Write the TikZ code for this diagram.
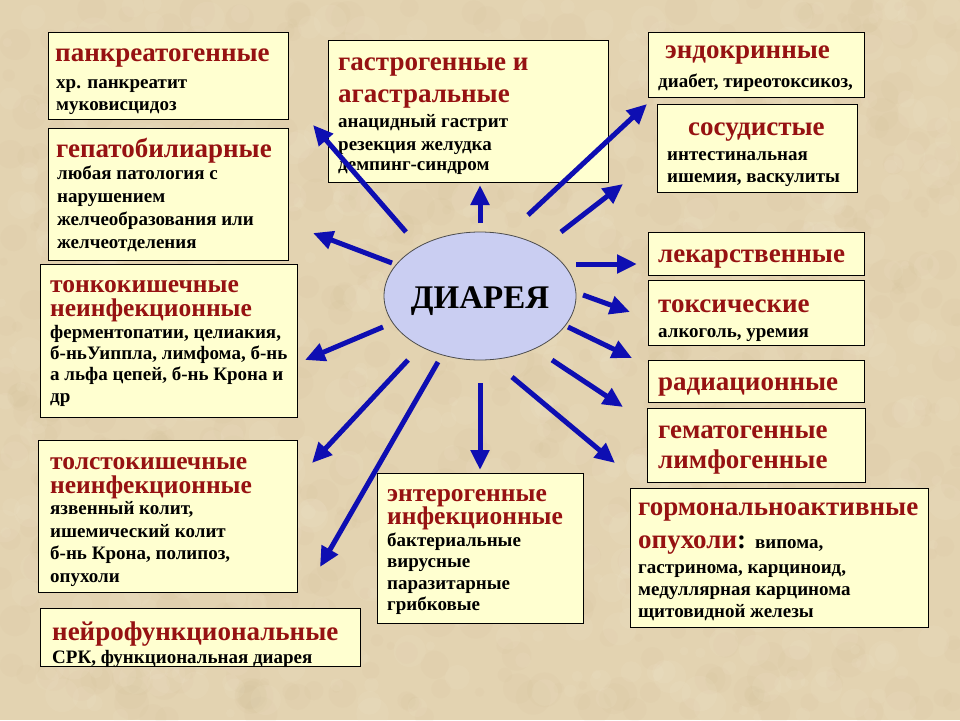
\documentclass[tikz,border=0pt]{standalone}
\usepackage{fontspec}
\setmainfont{Liberation Serif}
\usetikzlibrary{arrows.meta,shapes.geometric}
\definecolor{bg}{RGB}{227,211,177}
\definecolor{bgdark}{RGB}{200,180,140}
\definecolor{bglight}{RGB}{245,236,214}
\definecolor{boxfill}{RGB}{255,255,208}
\definecolor{dred}{RGB}{150,18,18}
\definecolor{arrblue}{RGB}{14,14,178}
\definecolor{ellfill}{RGB}{202,206,242}
\begin{document}
\begin{tikzpicture}[x=1pt,y=-1pt,
  box/.style={draw=black, line width=1pt, fill=boxfill, anchor=north west, inner sep=0pt},
  tt/.style={anchor=base west, inner sep=0pt, text=dred, font=\fontsize{27}{30}\selectfont\bfseries},
  tts/.style={tt, font=\fontsize{25.5}{28}\selectfont\bfseries},
  bd/.style={anchor=base west, inner sep=0pt, text=black, font=\fontsize{19}{22}\selectfont\bfseries},
  arr/.style={draw=arrblue, line width=5pt, -{Triangle[length=20pt,width=18pt]}}]
\fill[bg] (0,0) rectangle (960,720);
\useasboundingbox (0,0) rectangle (960,720);
% parchment texture
\pgfmathsetseed{12}
\foreach \k in {1,...,700} {
  \pgfmathsetmacro\xx{rnd*960}\pgfmathsetmacro\yy{rnd*720}\pgfmathsetmacro\rr{4+rnd*14}
  \fill[bgdark, opacity=0.07] (\xx,\yy) circle[radius=\rr];
}
\foreach \k in {1,...,600} {
  \pgfmathsetmacro\xx{rnd*960}\pgfmathsetmacro\yy{rnd*720}\pgfmathsetmacro\rr{4+rnd*14}
  \fill[bglight, opacity=0.10] (\xx,\yy) circle[radius=\rr];
}
% boxes
\node[box, minimum width=240, minimum height=87] (b1) at (48,32) {};
\node[box, minimum width=240, minimum height=132] (b2) at (48,128) {};
\node[box, minimum width=280, minimum height=142] (b3) at (328,40) {};
\node[box, minimum width=216, minimum height=65] (b4) at (648,32) {};
\node[box, minimum width=200, minimum height=88] (b5) at (657,104) {};
\node[box, minimum width=257, minimum height=153] (b6) at (40,264) {};
\node[box, minimum width=216, minimum height=43] (b7) at (648,232) {};
\node[box, minimum width=216, minimum height=65] (b8) at (648,280) {};
\node[box, minimum width=216, minimum height=42] (b9) at (648,360) {};
\node[box, minimum width=218, minimum height=74] (b10) at (647,408) {};
\node[box, minimum width=259, minimum height=152] (b11) at (38,440) {};
\node[box, minimum width=320, minimum height=58] (b12) at (40,608) {};
\node[box, minimum width=206, minimum height=150] (b13) at (377,473) {};
\node[box, minimum width=298, minimum height=139] (b14) at (630,488) {};
% texts
\node[tt] (t1a) at (55,61) {панкреатогенные};
\node[bd] (t1b) at (56,88) {хр. панкреатит};
\node[bd] (t1c) at (56,110) {муковисцидоз};
\node[tt] (t2a) at (56,157) {гепатобилиарные};
\node[bd] (t2b) at (57,179) {любая патология с};
\node[bd] (t2c) at (57,202) {нарушением};
\node[bd] (t2d) at (57,225) {желчеобразования или};
\node[bd] (t2e) at (57,248) {желчеотделения};
\node[tt] (t3a) at (338,70) {гастрогенные и};
\node[tt] (t3b) at (338,102) {агастральные};
\node[bd] (t3c) at (338,127) {анацидный гастрит};
\node[bd] (t3d) at (338,150) {резекция желудка};
\node[bd] (t3e) at (338,170) {демпинг-синдром};
\node[tt] (t4a) at (665,58) {эндокринные};
\node[bd] (t4b) at (658,87) {диабет, тиреотоксикоз,};
\node[tt] (t5a) at (688,135) {сосудистые};
\node[bd] (t5b) at (667,160) {интестинальная};
\node[bd] (t5c) at (667,182) {ишемия, васкулиты};
\node[tts] (t6a) at (50,292) {тонкокишечные};
\node[tts] (t6b) at (50,316) {неинфекционные};
\node[bd] (t6c) at (50,338) {ферментопатии, целиакия,};
\node[bd] (t6d) at (50,359) {б-ньУиппла, лимфома, б-нь};
\node[bd] (t6e) at (50,380) {а льфа цепей, б-нь Крона и};
\node[bd] (t6f) at (50,402) {др};
\node[tt] (t7a) at (658,262) {лекарственные};
\node[tt] (t8a) at (658,312) {токсические};
\node[bd] (t8b) at (658,337) {алкоголь, уремия};
\node[tt] (t9a) at (658,390) {радиационные};
\node[tt] (t10a) at (658,438) {гематогенные};
\node[tt] (t10b) at (658,468) {лимфогенные};
\node[tts] (t11a) at (50,469) {толстокишечные};
\node[tts] (t11b) at (50,493) {неинфекционные};
\node[bd] (t11c) at (50,514) {язвенный колит,};
\node[bd] (t11d) at (50,537) {ишемический колит};
\node[bd] (t11e) at (50,559) {б-нь Крона, полипоз,};
\node[bd] (t11f) at (50,582) {опухоли};
\node[tt] (t12a) at (52,640) {нейрофункциональные};
\node[bd] (t12b) at (52,663) {СРК, функциональная диарея};
\node[tts] (t13a) at (387,501) {энтерогенные};
\node[tts] (t13b) at (387,524) {инфекционные};
\node[bd] (t13c) at (387,546) {бактериальные};
\node[bd] (t13d) at (387,567) {вирусные};
\node[bd] (t13e) at (387,589) {паразитарные};
\node[bd] (t13f) at (387,610) {грибковые};
\node[tt] (t14a) at (638,515) {гормональноактивные};
\node[tt] (t14b) at (638,548) {опухоли\textcolor{black}{:} {\fontsize{19}{22}\selectfont\color{black}випома,}};
\node[bd] (t14c) at (638,573) {гастринома, карциноид,};
\node[bd] (t14d) at (638,595) {медуллярная карцинома};
\node[bd] (t14e) at (638,617) {щитовидной железы};
% centre
\node[ellipse, draw=black!70, line width=0.8pt, fill=ellfill, minimum width=192, minimum height=128, inner sep=0pt] (d) at (480,296) {};
\node[anchor=base, inner sep=0pt, font=\fontsize{33}{36}\selectfont\bfseries] (dt) at (480,308) {ДИАРЕЯ};
% arrow ends
\coordinate (s1) at (480,223); \coordinate (e1) at (480,185);
\coordinate (s2) at (406,232); \coordinate (e2) at (313,125);
\coordinate (s3) at (392,263); \coordinate (e3) at (313,233);
\coordinate (s4) at (383,327); \coordinate (e4) at (305,360);
\coordinate (s5) at (408,360); \coordinate (e5) at (312,463);
\coordinate (s6) at (438,362); \coordinate (e6) at (320,567);
\coordinate (s7) at (480,383); \coordinate (e7) at (480,470);
\coordinate (s8) at (512,377); \coordinate (e8) at (615,463);
\coordinate (s9) at (552,360); \coordinate (e9) at (623,407);
\coordinate (s10) at (568,327); \coordinate (e10) at (632,358);
\coordinate (s11) at (583,295); \coordinate (e11) at (630,312);
\coordinate (s12) at (576,264); \coordinate (e12) at (637,264);
\coordinate (s13) at (561,232); \coordinate (e13) at (623,184);
\coordinate (s14) at (528,215); \coordinate (e14) at (647,104);
\foreach \i in {1,...,14} {\draw[arr] (s\i) -- (e\i);}
\end{tikzpicture}
\end{document}
